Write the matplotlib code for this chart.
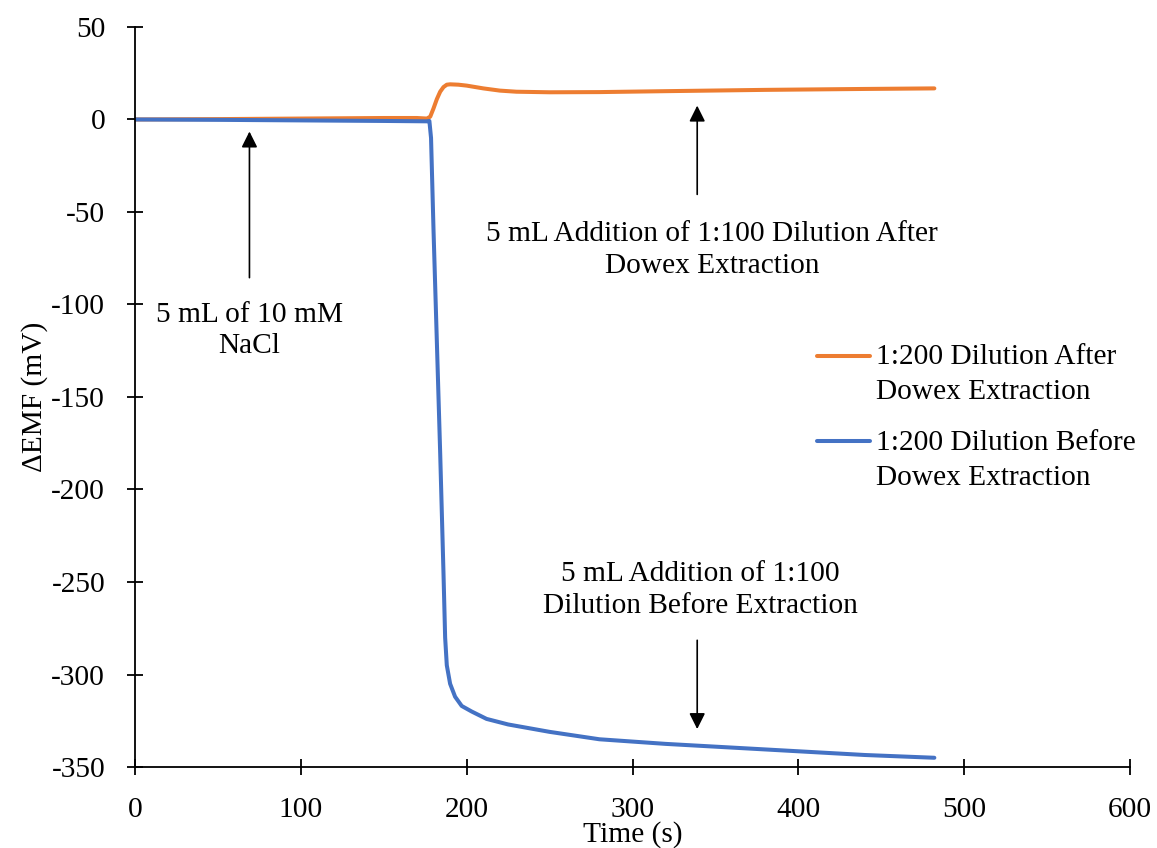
import matplotlib
matplotlib.use("Agg")
import matplotlib.pyplot as plt
from matplotlib.legend_handler import HandlerLine2D

plt.rcParams['font.family'] = ['Liberation Serif', 'DejaVu Serif']
plt.rcParams['axes.unicode_minus'] = False

# Data
t_after = [0, 50, 100, 150, 170, 176, 178, 180, 182, 184, 186, 188, 190, 195, 200,
           210, 220, 230, 250, 280, 320, 380, 440, 482]
emf_after = [0, 0.2, 0.5, 0.8, 0.8, 0.5, 1.5, 6, 11, 15, 17.5, 18.8, 19, 18.8, 18.3,
             16.8, 15.6, 15, 14.7, 14.8, 15.3, 16, 16.5, 16.8]

t_before = [0, 50, 100, 150, 176, 177.5, 178.5, 180, 182, 184, 186, 187, 188, 190,
            193, 197, 203, 212, 225, 250, 280, 320, 360, 400, 440, 482]
emf_before = [0, -0.2, -0.5, -0.8, -1, -0.8, -10, -60, -120, -180, -245, -280, -295,
              -305, -312, -317, -320, -324, -327, -331, -335, -337.5, -339.5, -341.5,
              -343.5, -345]

label_after = "1:200 Dilution After\nDowex Extraction"
label_before = "1:200 Dilution Before\nDowex Extraction"

x_ticks = [0, 100, 200, 300, 400, 500, 600]
y_ticks = [50, 0, -50, -100, -150, -200, -250, -300, -350]

FS = 21.2


class TopLineHandler(HandlerLine2D):
    def __init__(self, shift, **kw):
        super().__init__(**kw)
        self.shift = shift

    def create_artists(self, legend, orig_handle, xdescent, ydescent, width,
                       height, fontsize, trans):
        arts = super().create_artists(legend, orig_handle, xdescent, ydescent,
                                      width, height, fontsize, trans)
        for a in arts:
            yd = a.get_ydata()
            a.set_ydata([y + self.shift for y in yd])
        return arts


fig = plt.figure(figsize=(11.57, 8.48), dpi=100)
ax = fig.add_axes([0.1167, 0.0955, 0.86, 0.8727])

l1, = ax.plot(t_after, emf_after, color='#ED7D31', lw=2.9, label=label_after,
              solid_joinstyle='round', solid_capstyle='round')
l2, = ax.plot(t_before, emf_before, color='#4472C4', lw=2.9, label=label_before,
              solid_joinstyle='round', solid_capstyle='round')

ax.set_xlim(0, 600)
ax.set_ylim(-350, 50)
ax.set_xticks(x_ticks)
ax.set_yticks(y_ticks)
ax.tick_params(direction='inout', length=11, width=1.3, labelsize=FS, pad=16)
for s in ['top', 'right']:
    ax.spines[s].set_visible(False)
for s in ['left', 'bottom']:
    ax.spines[s].set_linewidth(1.3)

ax.set_xlabel("Time (s)", fontsize=FS, labelpad=-1.5)
ax.set_ylabel("ΔEMF (mV)", fontsize=FS, labelpad=2)

arrowprops = dict(arrowstyle='-|>', color='black', lw=1.2, mutation_scale=24)
ax.annotate("", xy=(69, -5), xytext=(69, -87), arrowprops=arrowprops)
ax.text(69, -98.5, "5 mL of 10 mM\nNaCl", ha='center', va='top', fontsize=FS,
        linespacing=1.28)

ax.annotate("", xy=(339, 9), xytext=(339, -42), arrowprops=arrowprops)
ax.text(348, -55, "5 mL Addition of 1:100 Dilution After\nDowex Extraction",
        ha='center', va='top', fontsize=FS, linespacing=1.28)

ax.annotate("", xy=(339, -331), xytext=(339, -280), arrowprops=arrowprops)
ax.text(341, -270, "5 mL Addition of 1:100\nDilution Before Extraction",
        ha='center', va='bottom', fontsize=FS, linespacing=1.28)

h = TopLineHandler(13.5)
leg = ax.legend(handles=[l1, l2], loc='upper left', bbox_to_anchor=(0.6854, 0.5712),
                frameon=False, fontsize=FS, handlelength=1.8, handletextpad=0.2,
                labelspacing=0.85, borderpad=0, borderaxespad=0,
                handler_map={l1: h, l2: h})
for t in leg.get_texts():
    t.set_linespacing(1.44)

fig.savefig("out.png", dpi=100)
